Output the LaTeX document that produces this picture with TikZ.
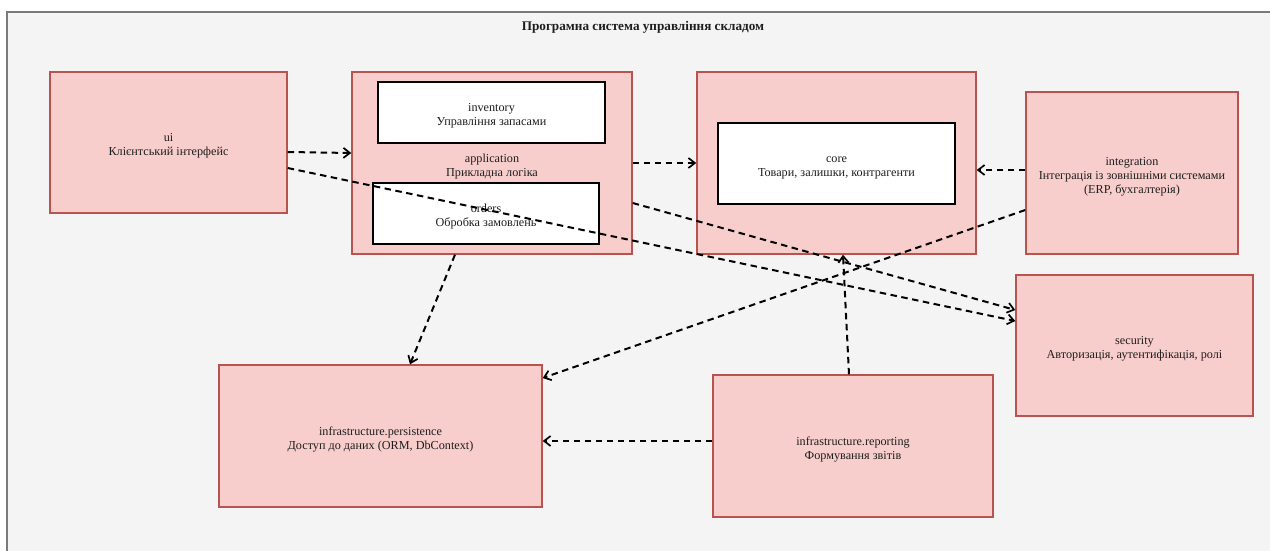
\documentclass[tikz,border=0pt]{standalone}
\usepackage{fontspec}
\setmainfont{Liberation Serif}
\usetikzlibrary{arrows.meta}
\definecolor{pkgfill}{HTML}{F8CECC}
\definecolor{pkgline}{HTML}{B85450}
\definecolor{canvas}{HTML}{F4F4F4}
\definecolor{framegray}{HTML}{7A7A7A}
\definecolor{txt}{HTML}{1E1E1E}
% extra room above the first text line, so the label sits a little low in its box
\newcommand{\toppad}{\rule{0pt}{15.5pt}}
\tikzset{
  pkg/.style={draw=pkgline, fill=pkgfill, line width=1.4pt, rectangle,
    align=center, text=txt, inner sep=0pt,
    font=\fontsize{12.2}{14}\selectfont},
  subpkg/.style={draw=black, fill=white, line width=1.9pt, rectangle,
    align=center, text=txt, inner sep=0pt,
    font=\fontsize{12.2}{14}\selectfont},
  dep/.style={draw=black, line width=2pt, dash pattern=on 6.5pt off 4.5pt,
    -{Straight Barb[length=6.5pt,width=10pt,line width=1.7pt]}},
}
\begin{document}
\begin{tikzpicture}[x=1pt, y=-1pt]
  \useasboundingbox (0,0) rectangle (1270,551);
  \clip (0,0) rectangle (1270,551);
  \fill[white] (0,0) rectangle (1270,551);
  % system frame
  \draw[framegray, fill=canvas, line width=1.8pt] (7,12) rectangle (1290,580);
  \node[font=\bfseries\fontsize{13.2}{15}\selectfont, text=txt] (title) at (643,27.5)
    {Програмна система управління складом};

  % packages
  \node[pkg, minimum width=237pt, minimum height=141pt] (ui) at (168.5,142.5)
    {\toppad ui\\Клієнтський інтерфейс};
  \node[pkg, minimum width=280pt, minimum height=182pt] (app) at (492,163)
    {\toppad application\\Прикладна логіка};
  \node[pkg, minimum width=279pt, minimum height=182pt] (core) at (836.5,163) {};
  \node[pkg, minimum width=212pt, minimum height=162pt] (integ) at (1132,173)
    {\toppad integration\\Інтеграція із зовнішніми системами\\(ERP, бухгалтерія)};
  \node[pkg, minimum width=237pt, minimum height=141pt] (sec) at (1134.5,345.5)
    {\toppad security\\Авторизація, аутентифікація, ролі};
  \node[pkg, minimum width=323pt, minimum height=142pt] (pers) at (380.5,436)
    {\toppad infrastructure.persistence\\Доступ до даних (ORM, DbContext)};
  \node[pkg, minimum width=280pt, minimum height=142pt] (rep) at (853,446)
    {\toppad infrastructure.reporting\\Формування звітів};

  % nested packages
  \node[subpkg, minimum width=227pt, minimum height=61pt] (inv) at (491.5,112.5)
    {\toppad inventory\\Управління запасами};
  \node[subpkg, minimum width=226pt, minimum height=61pt] (ord) at (486,213.5)
    {\toppad orders\\Обробка замовлень};
  \node[subpkg, minimum width=237pt, minimum height=81pt] (coreinner) at (836.5,163.5)
    {\toppad core\\Товари, залишки, контрагенти};

  % dependencies
  \draw[dep] ([yshift=-9.5pt]ui.east) -- ([yshift=10pt]app.west);
  \draw[dep] ([yshift=-25.5pt]ui.east) -- ([yshift=24.5pt]sec.west);
  \draw[dep] ([yshift=-40pt]app.east) -- ([yshift=35.5pt]sec.west);
  \draw[dep] (app.east) -- (core.west);
  \draw[dep] ([yshift=3pt]integ.west) -- ([yshift=-7pt]core.east);
  \draw[dep] ([yshift=-37pt]integ.west) -- ([yshift=58pt]pers.east);
  \draw[dep] ([xshift=-37pt]app.south) -- ([xshift=29.5pt]pers.north);
  \draw[dep] ([yshift=5pt]rep.west) -- ([yshift=-5pt]pers.east);
  \draw[dep] ([xshift=-4pt]rep.north) -- ([xshift=6.5pt]core.south);
\end{tikzpicture}
\end{document}
